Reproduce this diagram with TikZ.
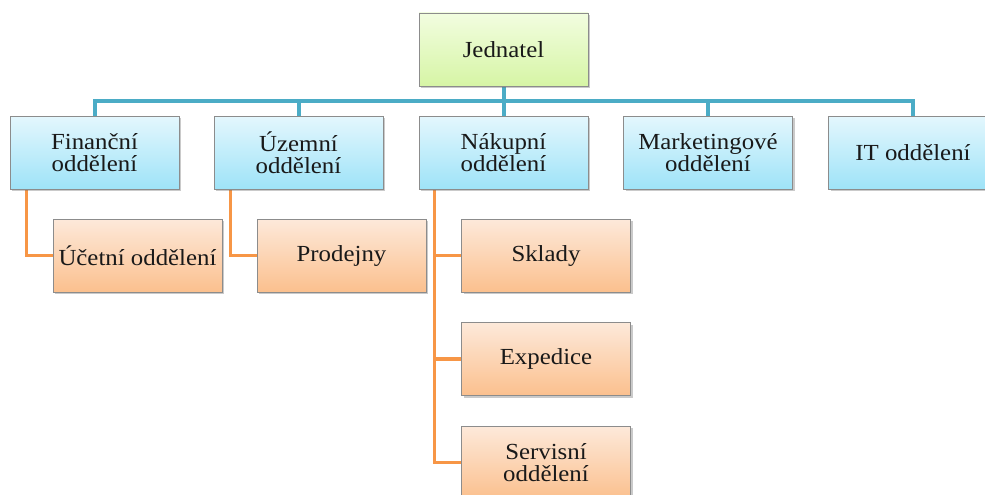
\documentclass[tikz,border=0pt]{standalone}
\usepackage{fontspec}
\setmainfont{Liberation Serif}[FakeStretch=1.08]
\usetikzlibrary{shadows,backgrounds}
\definecolor{bluel}{HTML}{4BACC6}
\definecolor{orl}{HTML}{F79646}
\tikzset{
  box/.style={draw=black!45, line width=0.6pt, minimum width=169pt, minimum height=73pt,
    align=center, font=\fontsize{23}{22}\selectfont, text=black!90, inner sep=2pt,
    drop shadow={shadow xshift=2pt, shadow yshift=-2pt, opacity=0.35, fill=black!60}},
  greenbox/.style={box, top color={rgb,255:red,242;green,253;blue,224}, bottom color={rgb,255:red,214;green,245;blue,165}},
  bluebox/.style={box, top color={rgb,255:red,228;green,247;blue,253}, bottom color={rgb,255:red,158;green,227;blue,248}},
  orbox/.style={box, top color={rgb,255:red,253;green,233;blue,218}, bottom color={rgb,255:red,251;green,192;blue,142}},
  bline/.style={draw=bluel, line width=4pt},
  oline/.style={draw=orl, line width=3.5pt},
}
\begin{document}
\begin{tikzpicture}[x=1pt,y=-1pt]
\useasboundingbox (0,0) rectangle (985,495);
\clip (0,0) rectangle (985,495);
\node[greenbox] (jed) at (503.5,49.5) {Jednatel};
\node[bluebox] (fin) at (94.5,152.5) {Finanční\\oddělení};
\node[bluebox] (uze) at (298.5,152.5) {Územní\\oddělení};
\node[bluebox] (nak) at (503.5,152.5) {Nákupní\\oddělení};
\node[bluebox] (mar) at (708,152.5) {Marketingové\\oddělení};
\node[bluebox] (it) at (913,152.5) {IT oddělení};
\node[orbox] (uce) at (137.5,255.5) {Účetní oddělení};
\node[orbox] (pro) at (341.5,255.5) {Prodejny};
\node[orbox] (skl) at (546,255.5) {Sklady};
\node[orbox] (exp) at (546,359) {Expedice};
\node[orbox] (ser) at (546,462.5) {Servisní\\oddělení};
\begin{scope}[on background layer]
\foreach \c in {fin,uze,nak,mar,it}{
  \draw[bline] (jed.south) -- ++(0,15) -| (\c.north);
}
\draw[oline] ([xshift=17pt]fin.south west) |- (uce.west);
\draw[oline] ([xshift=17pt]uze.south west) |- (pro.west);
\draw[oline] ([xshift=16pt]nak.south west) |- (skl.west);
\draw[oline] ([xshift=16pt]nak.south west) |- (exp.west);
\draw[oline] ([xshift=16pt]nak.south west) |- (ser.west);
\end{scope}
\end{tikzpicture}
\end{document}
